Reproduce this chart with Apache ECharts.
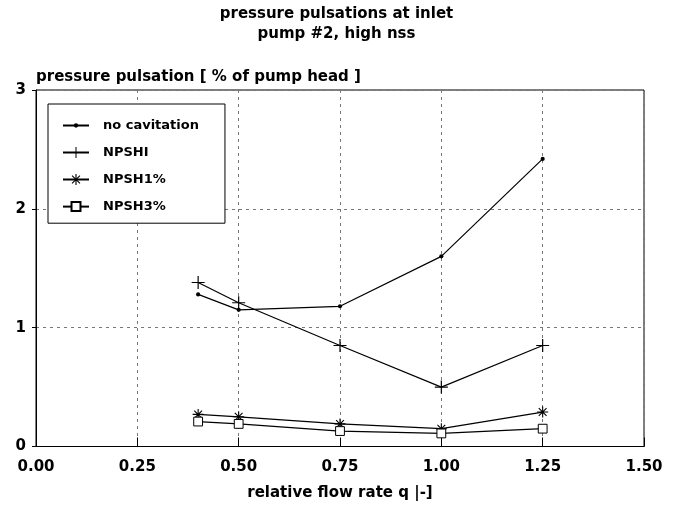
<!DOCTYPE html>
<html><head><meta charset="utf-8">
<script src="https://cdn.jsdelivr.net/npm/echarts@6/dist/echarts.min.js"></script>
<style>html,body{margin:0;padding:0;background:#fff}#c{width:673px;height:507px}</style>
</head><body><div id="c"></div>
<script>
// ---- data ----
const titleLines = ['pressure pulsations at inlet', 'pump #2, high nss'];
const yAxisTitle = 'pressure pulsation [ % of pump head ]';
const xAxisTitle = 'relative flow rate q |-]';
const seriesNames = ['no cavitation', 'NPSHI', 'NPSH1%', 'NPSH3%'];
const flowRate = [0.40, 0.50, 0.75, 1.00, 1.25];
const noCavitation = [1.28, 1.15, 1.18, 1.60, 2.42];
const npshI = [1.38, 1.21, 0.85, 0.50, 0.85];
const npsh1 = [0.27, 0.25, 0.19, 0.15, 0.29];
const npsh3 = [0.21, 0.19, 0.13, 0.11, 0.15];
const xTickStep = 0.25, xMin = 0, xMax = 1.5;
const yTickStep = 1, yMin = 0, yMax = 3;

// ---- symbols (outer frame points only set the box size) ----
const FRAME = 'M-5,-5 L-5,-5 M5,5 L5,5 ';
const SYM_DOT = 'path://' + FRAME + 'M-1.9,0 A1.9,1.9 0 1,1 1.9,0 A1.9,1.9 0 1,1 -1.9,0 Z';
const SYM_PLUS = 'path://' + FRAME + 'M-0.45,-5 L0.45,-5 L0.45,5 L-0.45,5 Z M-5,-0.45 L5,-0.45 L5,0.45 L-5,0.45 Z';
const SYM_STAR = 'path://' + FRAME +
  'M-0.5,-5 L0.5,-5 L0.5,5 L-0.5,5 Z M-5,-0.5 L5,-0.5 L5,0.5 L-5,0.5 Z ' +
  'M-3.89,-3.19 L-3.19,-3.89 L3.89,3.19 L3.19,3.89 Z ' +
  'M-3.89,3.19 L3.19,-3.89 L3.89,-3.19 L-3.19,3.89 Z';
const SYM_SQUARE = 'path://' + FRAME + 'M-4,-4 L4,-4 L4,4 L-4,4 Z';

const FONT = 'DejaVu Sans';
const zip = ys => flowRate.map((x, i) => [x, ys[i]]);

function mkSeries(name, ys, symbol, size, fill) {
  return {
    name, type: 'line', data: zip(ys), symbol, symbolSize: size,
    showSymbol: true, showAllSymbol: true, animation: false,
    lineStyle: { color: '#000', width: 1.2 },
    itemStyle: fill === 'hollow'
      ? { color: '#fff', borderColor: '#000', borderWidth: 1 }
      : { color: '#000', borderWidth: 0 },
    emphasis: { disabled: true }
  };
}

const chart = echarts.init(document.getElementById('c'), null, { renderer: 'canvas' });
chart.setOption({
  backgroundColor: '#fff',
  animation: false,
  textStyle: { fontFamily: FONT, color: '#000' },
  title: {
    text: titleLines.join('\n'), left: 'center', top: 4, padding: 0,
    textStyle: { fontFamily: FONT, fontSize: 15, fontWeight: 'bold', color: '#000', lineHeight: 20 }
  },
  grid: { left: 36, right: 29, top: 90, bottom: 60.5, show: true, borderColor: '#000', borderWidth: 1, backgroundColor: 'transparent' },
  legend: {
    left: 48, top: 104, orient: 'vertical',
    data: seriesNames,
    itemWidth: 26, itemHeight: 14, itemGap: 14,
    padding: [15, 26, 10, 14],
    backgroundColor: '#fff', borderColor: '#000', borderWidth: 1,
    textStyle: { fontFamily: FONT, fontSize: 13, fontWeight: 'bold', color: '#000', padding: [0, 0, 0, 9] },
    selectedMode: false
  },
  xAxis: {
    type: 'value', min: xMin, max: xMax, interval: xTickStep,
    name: xAxisTitle, nameLocation: 'middle', nameGap: 39,
    nameTextStyle: { fontFamily: FONT, fontSize: 15, fontWeight: 'bold', color: '#000' },
    axisLine: { show: true, lineStyle: { color: '#000', width: 1 } },
    axisTick: { show: true, inside: true, length: 9, lineStyle: { color: '#000' } },
    axisLabel: { margin: 13, fontFamily: FONT, fontSize: 15, fontWeight: 'bold', color: '#000', formatter: v => v.toFixed(2) },
    splitLine: { show: true, lineStyle: { color: '#777', type: [3, 4], width: 1 } }
  },
  yAxis: {
    type: 'value', min: yMin, max: yMax, interval: yTickStep,
    name: yAxisTitle, nameLocation: 'end', nameGap: 5,
    nameTextStyle: { fontFamily: FONT, fontSize: 15, fontWeight: 'bold', color: '#000', align: 'left', verticalAlign: 'bottom' },
    axisLine: { show: true, lineStyle: { color: '#000', width: 1 } },
    axisTick: { show: true, inside: false, length: 4, lineStyle: { color: '#000' } },
    axisLabel: { margin: 10, fontFamily: FONT, fontSize: 15, fontWeight: 'bold', color: '#000', formatter: v => String(Math.round(v)) },
    splitLine: { show: true, lineStyle: { color: '#777', type: [3, 4], width: 1 } }
  },
  series: [
    mkSeries(seriesNames[0], noCavitation, SYM_DOT, 11, 'solid'),
    mkSeries(seriesNames[1], npshI, SYM_PLUS, 13, 'solid'),
    mkSeries(seriesNames[2], npsh1, SYM_STAR, 11, 'solid'),
    mkSeries(seriesNames[3], npsh3, SYM_SQUARE, 11, 'hollow')
  ]
});
</script>
</body></html>
